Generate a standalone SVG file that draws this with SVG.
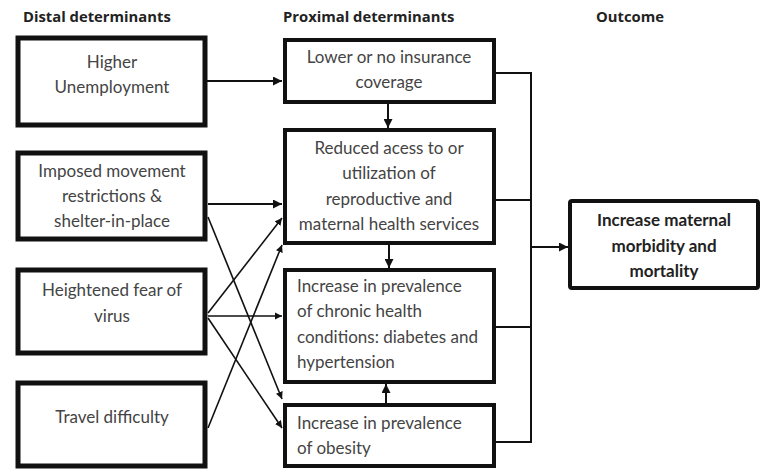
<svg xmlns="http://www.w3.org/2000/svg" width="763" height="470" viewBox="0 0 763 470">
  <defs>
    <marker id="ah" viewBox="0 0 10 10" refX="10" refY="5" markerWidth="4.5" markerHeight="4.5" orient="auto" markerUnits="strokeWidth">
      <path d="M0,0 L10,5 L0,10 z" fill="#111"/>
    </marker>
    <style>
      .hdr { font-family: "Open Sans", "Liberation Sans", sans-serif; font-weight: bold; font-size: 14.8px; fill: #222; }
      .t { font-family: Lato, "Liberation Sans", sans-serif; font-size: 17px; fill: #444; }
      .tc { text-anchor: middle; }
      .tb { font-family: Lato, "Liberation Sans", sans-serif; font-weight: bold; font-size: 17px; fill: #222; text-anchor: middle; }
      .boxL { fill: #fff; stroke: #111; stroke-width: 5; }
      .boxM { fill: #fff; stroke: #111; stroke-width: 4; }
      .boxO { fill: #fff; stroke: #111; stroke-width: 4; }
      .c { fill: none; stroke: #111; stroke-width: 2; }
      .ca { fill: none; stroke: #111; stroke-width: 2; marker-end: url(#ah); }
      .cx { fill: none; stroke: #111; stroke-width: 1.6; marker-end: url(#ah); }
    </style>
  </defs>
  <rect width="763" height="470" fill="#fff"/>

  <g id="headers">
    <text class="hdr" x="23" y="22">Distal determinants</text>
    <text class="hdr" x="283" y="22">Proximal determinants</text>
    <text class="hdr" x="630" y="22" text-anchor="middle">Outcome</text>
  </g>

  <g id="connectors">
    <line class="ca" x1="207" y1="81" x2="282" y2="81"/>
    <line class="ca" x1="388" y1="104" x2="388" y2="128"/>
    <line class="ca" x1="389" y1="245" x2="389" y2="268"/>
    <line class="ca" x1="386" y1="403" x2="386" y2="384"/>
    <line class="ca" x1="208" y1="204" x2="282" y2="204"/>
    <line class="cx" x1="208" y1="217" x2="282" y2="399"/>
    <line class="cx" x1="208" y1="313" x2="282" y2="218"/>
    <line class="cx" x1="208" y1="316" x2="282" y2="316"/>
    <line class="cx" x1="208" y1="318" x2="282" y2="428"/>
    <line class="cx" x1="208" y1="428" x2="282" y2="245"/>
    <polyline class="c" points="496,73 531,73 531,442 496,442"/>
    <line class="c" x1="496" y1="200" x2="531" y2="200"/>
    <line class="c" x1="496" y1="327" x2="531" y2="327"/>
    <line class="ca" x1="531" y1="247" x2="568" y2="247"/>
  </g>

  <g id="n-unemployment">
    <rect class="boxL" x="18" y="38" width="187" height="87"/>
    <text class="t tc" x="112" y="68">Higher</text>
    <text class="t tc" x="112" y="93">Unemployment</text>
  </g>
  <g id="n-restrictions">
    <rect class="boxL" x="18" y="153" width="187" height="86"/>
    <text class="t tc" x="112" y="177">Imposed movement</text>
    <text class="t tc" x="112" y="202">restrictions &amp;</text>
    <text class="t tc" x="112" y="227">shelter-in-place</text>
  </g>
  <g id="n-fear">
    <rect class="boxL" x="18" y="270" width="187" height="83"/>
    <text class="t tc" x="112" y="296">Heightened fear of</text>
    <text class="t tc" x="112" y="322">virus</text>
  </g>
  <g id="n-travel">
    <rect class="boxL" x="18" y="383" width="187" height="83"/>
    <text class="t tc" x="112" y="423">Travel difficulty</text>
  </g>

  <g id="n-insurance">
    <rect class="boxM" x="285" y="40" width="209" height="62"/>
    <text class="t tc" x="389" y="63">Lower or no insurance</text>
    <text class="t tc" x="389" y="88">coverage</text>
  </g>
  <g id="n-access">
    <rect class="boxM" x="285" y="130" width="209" height="113"/>
    <text class="t tc" x="389" y="154">Reduced acess to or</text>
    <text class="t tc" x="389" y="179">utilization of</text>
    <text class="t tc" x="389" y="205">reproductive and</text>
    <text class="t tc" x="389" y="230">maternal health services</text>
  </g>
  <g id="n-chronic">
    <rect class="boxM" x="285" y="270" width="209" height="112"/>
    <text class="t" x="297" y="292">Increase in prevalence</text>
    <text class="t" x="297" y="317">of chronic health</text>
    <text class="t" x="297" y="343">conditions: diabetes and</text>
    <text class="t" x="297" y="368">hypertension</text>
  </g>
  <g id="n-obesity">
    <rect class="boxM" x="285" y="405" width="209" height="61"/>
    <text class="t" x="297" y="429">Increase in prevalence</text>
    <text class="t" x="297" y="454">of obesity</text>
  </g>

  <g id="n-outcome">
    <rect class="boxO" x="570" y="201" width="188" height="87" rx="2"/>
    <text class="tb" x="664" y="226">Increase maternal</text>
    <text class="tb" x="664" y="252">morbidity and</text>
    <text class="tb" x="664" y="277">mortality</text>
  </g>
</svg>
